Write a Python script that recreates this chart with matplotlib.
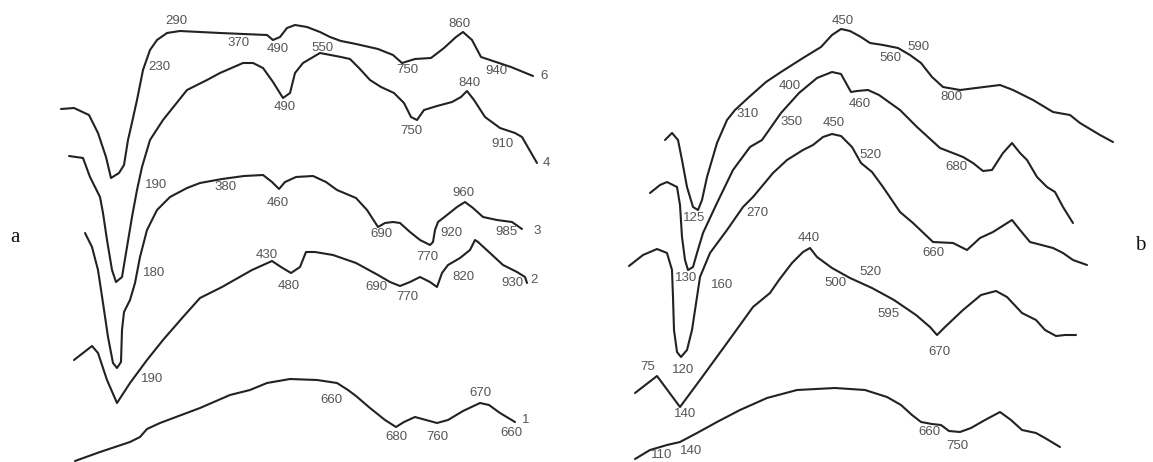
import numpy as np
import matplotlib
matplotlib.use("Agg")
import matplotlib.pyplot as plt

# traced curves, x = horizontal position, y = signal (downwards positive)

# ---- panel a ----
a6_x = [61, 74, 89, 98, 106, 111, 119, 124, 128, 131, 137, 143, 150, 157, 167, 180, 220, 267, 273, 280, 287, 295, 307, 320, 330, 341, 356, 378, 393, 402, 415, 431, 444, 456, 463, 472, 481, 496, 511, 533]
a6_y = [109, 108, 115, 133, 157, 178, 173, 165, 140, 127, 100, 70, 50, 40, 33, 31, 33, 35, 40, 37, 28, 25, 27, 32, 37, 41, 44, 49, 55, 63, 59, 58, 48, 37, 32, 40, 57, 62, 67, 76]

a4_x = [69, 83, 90, 100, 103, 107, 112, 116, 122, 127, 132, 137, 142, 150, 163, 187, 207, 220, 243, 253, 263, 273, 283, 290, 295, 303, 320, 341, 350, 359, 370, 381, 394, 404, 411, 417, 424, 437, 452, 461, 467, 474, 485, 500, 515, 522, 537]
a4_y = [156, 158, 177, 197, 213, 240, 270, 282, 277, 247, 217, 190, 167, 140, 120, 90, 80, 73, 63, 63, 68, 82, 98, 93, 73, 63, 53, 57, 59, 68, 80, 87, 93, 103, 117, 120, 110, 106, 102, 97, 91, 100, 117, 128, 133, 137, 163]

a3_x = [85, 92, 98, 103, 108, 113, 117, 121, 122, 124, 130, 135, 140, 147, 157, 170, 187, 200, 222, 244, 263, 272, 279, 285, 296, 313, 326, 337, 356, 367, 378, 385, 393, 400, 410, 420, 430, 433, 435, 438, 447, 457, 465, 473, 483, 497, 512, 522]
a3_y = [233, 247, 270, 303, 337, 363, 368, 362, 330, 312, 300, 283, 257, 230, 210, 197, 188, 183, 179, 176, 175, 182, 189, 182, 177, 176, 182, 190, 198, 210, 227, 223, 222, 223, 232, 240, 245, 242, 230, 222, 215, 207, 202, 208, 217, 220, 222, 229]

a2_x = [74, 83, 92, 98, 107, 117, 130, 147, 163, 183, 200, 222, 252, 272, 281, 291, 300, 306, 315, 333, 356, 378, 390, 400, 410, 420, 430, 437, 442, 448, 460, 470, 475, 478, 490, 503, 517, 525, 527]
a2_y = [360, 353, 346, 353, 380, 403, 383, 360, 340, 317, 298, 287, 270, 261, 267, 273, 267, 252, 252, 255, 263, 275, 282, 286, 282, 277, 282, 287, 273, 265, 258, 250, 240, 242, 253, 265, 272, 277, 283]

a1_x = [75, 100, 130, 140, 147, 160, 200, 230, 250, 267, 290, 317, 337, 348, 356, 370, 385, 396, 404, 415, 426, 437, 448, 463, 480, 489, 500, 515]
a1_y = [461, 452, 442, 437, 429, 423, 408, 395, 390, 383, 379, 380, 383, 390, 396, 408, 420, 427, 422, 417, 420, 423, 420, 411, 403, 405, 413, 422]

a_labels = [
    ("290", 176, 21), ("230", 159, 67), ("370", 239, 43), ("490", 278, 49), ("550", 322, 48),
    ("750", 407, 70), ("860", 459, 24), ("940", 496, 71), ("6", 544, 76),
    ("490", 285, 107), ("750", 411, 131), ("840", 469, 83), ("910", 502, 144), ("4", 546, 163),
    ("190", 156, 185), ("380", 226, 187), ("460", 278, 203), ("690", 381, 234), ("770", 427, 257),
    ("920", 451, 233), ("960", 463, 193), ("985", 506, 232), ("3", 537, 231),
    ("180", 154, 273), ("430", 267, 255), ("480", 289, 286), ("690", 376, 287), ("770", 407, 297),
    ("820", 463, 277), ("930", 512, 283), ("2", 534, 280), ("190", 152, 379),
    ("660", 331, 400), ("680", 396, 437), ("760", 437, 437), ("670", 480, 393), ("660", 511, 433), ("1", 526, 420),
]

# ---- panel b ----
b4_x = [665, 672, 678, 682, 687, 693, 698, 702, 707, 717, 727, 735, 748, 766, 781, 803, 821, 832, 841, 850, 861, 870, 883, 898, 910, 921, 932, 943, 960, 1000, 1013, 1033, 1053, 1070, 1080, 1100, 1113]
b4_y = [140, 133, 140, 160, 187, 207, 210, 200, 177, 143, 120, 110, 98, 82, 72, 58, 47, 35, 29, 31, 37, 43, 45, 48, 55, 63, 77, 87, 90, 85, 90, 100, 112, 115, 123, 135, 142]

b3_x = [650, 660, 667, 677, 680, 682, 685, 688, 693, 697, 703, 717, 733, 750, 762, 781, 799, 817, 832, 841, 846, 851, 857, 868, 879, 900, 917, 940, 963, 973, 983, 992, 1003, 1012, 1020, 1027, 1037, 1047, 1055, 1063, 1073]
b3_y = [193, 185, 182, 187, 205, 237, 260, 270, 267, 253, 233, 203, 170, 147, 140, 113, 93, 78, 72, 74, 83, 92, 91, 90, 95, 110, 127, 148, 157, 163, 171, 170, 153, 143, 153, 160, 177, 187, 192, 207, 223]

b2_x = [629, 643, 657, 667, 672, 673, 674, 677, 681, 687, 692, 697, 700, 710, 727, 743, 753, 773, 787, 803, 813, 823, 832, 841, 852, 861, 872, 883, 900, 913, 933, 953, 967, 980, 993, 1012, 1020, 1030, 1053, 1063, 1073, 1087]
b2_y = [266, 255, 249, 253, 270, 297, 330, 352, 357, 350, 330, 297, 277, 253, 230, 207, 197, 173, 160, 150, 145, 137, 134, 136, 147, 163, 172, 187, 212, 223, 242, 243, 250, 238, 232, 220, 230, 242, 248, 253, 260, 265]

b1_x = [635, 657, 680, 700, 727, 753, 770, 779, 792, 803, 810, 817, 832, 850, 872, 894, 916, 930, 937, 945, 963, 981, 996, 1007, 1022, 1036, 1045, 1056, 1065, 1076]
b1_y = [393, 376, 407, 380, 343, 307, 293, 280, 263, 252, 248, 257, 268, 278, 288, 300, 315, 327, 335, 327, 310, 295, 291, 297, 313, 320, 330, 336, 335, 335]

b0_x = [635, 650, 667, 680, 697, 717, 740, 767, 797, 835, 865, 887, 901, 912, 921, 932, 941, 949, 960, 971, 985, 1000, 1011, 1022, 1036, 1045, 1060]
b0_y = [459, 450, 445, 442, 433, 422, 410, 398, 390, 388, 390, 397, 405, 415, 422, 424, 425, 431, 432, 428, 420, 412, 420, 430, 433, 438, 447]

b_labels = [
    ("450", 843, 21), ("590", 918, 47), ("560", 890, 58), ("800", 951, 97), ("310", 748, 114), ("125", 694, 218),
    ("400", 790, 86), ("460", 860, 104), ("680", 956, 167), ("350", 792, 122), ("130", 686, 278), ("160", 722, 285),
    ("450", 834, 123), ("520", 870, 155), ("270", 757, 213), ("660", 933, 253), ("120", 683, 370),
    ("440", 809, 238), ("520", 870, 272), ("500", 835, 283), ("595", 888, 314), ("670", 939, 352),
    ("75", 648, 367), ("140", 685, 414),
    ("660", 929, 432), ("750", 957, 446), ("140", 691, 451), ("110", 662, 455),
]

curves = [(a6_x, a6_y), (a4_x, a4_y), (a3_x, a3_y), (a2_x, a2_y), (a1_x, a1_y),
          (b4_x, b4_y), (b3_x, b3_y), (b2_x, b2_y), (b1_x, b1_y), (b0_x, b0_y)]

fig = plt.figure(figsize=(11.53, 4.62), dpi=100)
ax = fig.add_axes([0, 0, 1, 1])
ax.set_xlim(0, 1153)
ax.set_ylim(462, 0)
ax.axis("off")

for cx, cy in curves:
    ax.plot(cx, cy, color="#222222", lw=1.5, solid_joinstyle="round", solid_capstyle="round")

for txt, lx, ly in a_labels + b_labels:
    ax.text(lx, ly, txt, ha="center", va="center", fontsize=9.5, color="#555555",
            family="Liberation Sans")

ax.text(15, 237, "a", ha="center", va="center", fontsize=15, family="Liberation Serif", color="#111111")
ax.text(1140, 245, "b", ha="center", va="center", fontsize=15, family="Liberation Serif", color="#111111")

fig.savefig("out.png", dpi=100)
